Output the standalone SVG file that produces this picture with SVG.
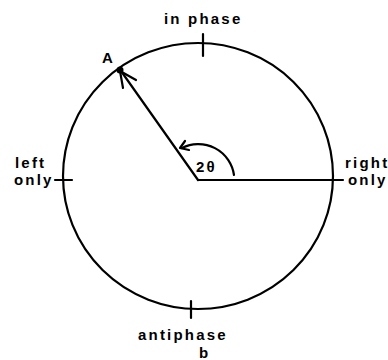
<svg xmlns="http://www.w3.org/2000/svg" width="388" height="360" viewBox="0 0 388 360">
<style>
.l{fill:none;stroke:#000;stroke-width:2.2;stroke-linecap:round;stroke-linejoin:round}
.t{font-family:"Liberation Sans",Arial,sans-serif;font-weight:bold;font-size:15px;letter-spacing:2.2px;fill:#000}
</style>
<rect width="388" height="360" fill="#fff"/>
<g id="circle">
<ellipse class="l" cx="198" cy="176" rx="135" ry="133"/>
</g>
<g id="ticks">
<line class="l" x1="203" y1="34" x2="203" y2="56"/>
<line class="l" x1="55" y1="180" x2="72" y2="180"/>
<line class="l" x1="191" y1="301" x2="191" y2="318"/>
</g>
<g id="connectors">
<line class="l" x1="198" y1="180" x2="343" y2="180"/>
<line class="l" x1="198" y1="180" x2="121" y2="71"/>
<polyline class="l" points="123,88 120,71 136,80"/>
<path class="l" d="M234,175 A36,36 0 0 0 182,148"/>
<polyline class="l" points="185,141 180,148 189,150"/>
</g>
<g id="pointA">
<circle cx="120" cy="70" r="3.5" fill="#000"/>
<text class="t" x="102" y="63">A</text>
</g>
<g id="labels">
<text class="t" x="164" y="24">in phase</text>
<text class="t" x="15" y="168">left</text>
<text class="t" x="14" y="185">only</text>
<text class="t" x="345" y="168">right</text>
<text class="t" x="348" y="185">only</text>
<text class="t" x="196" y="172">2θ</text>
<text class="t" x="138" y="340">antiphase</text>
<text class="t" x="199" y="358">b</text>
</g>
</svg>
